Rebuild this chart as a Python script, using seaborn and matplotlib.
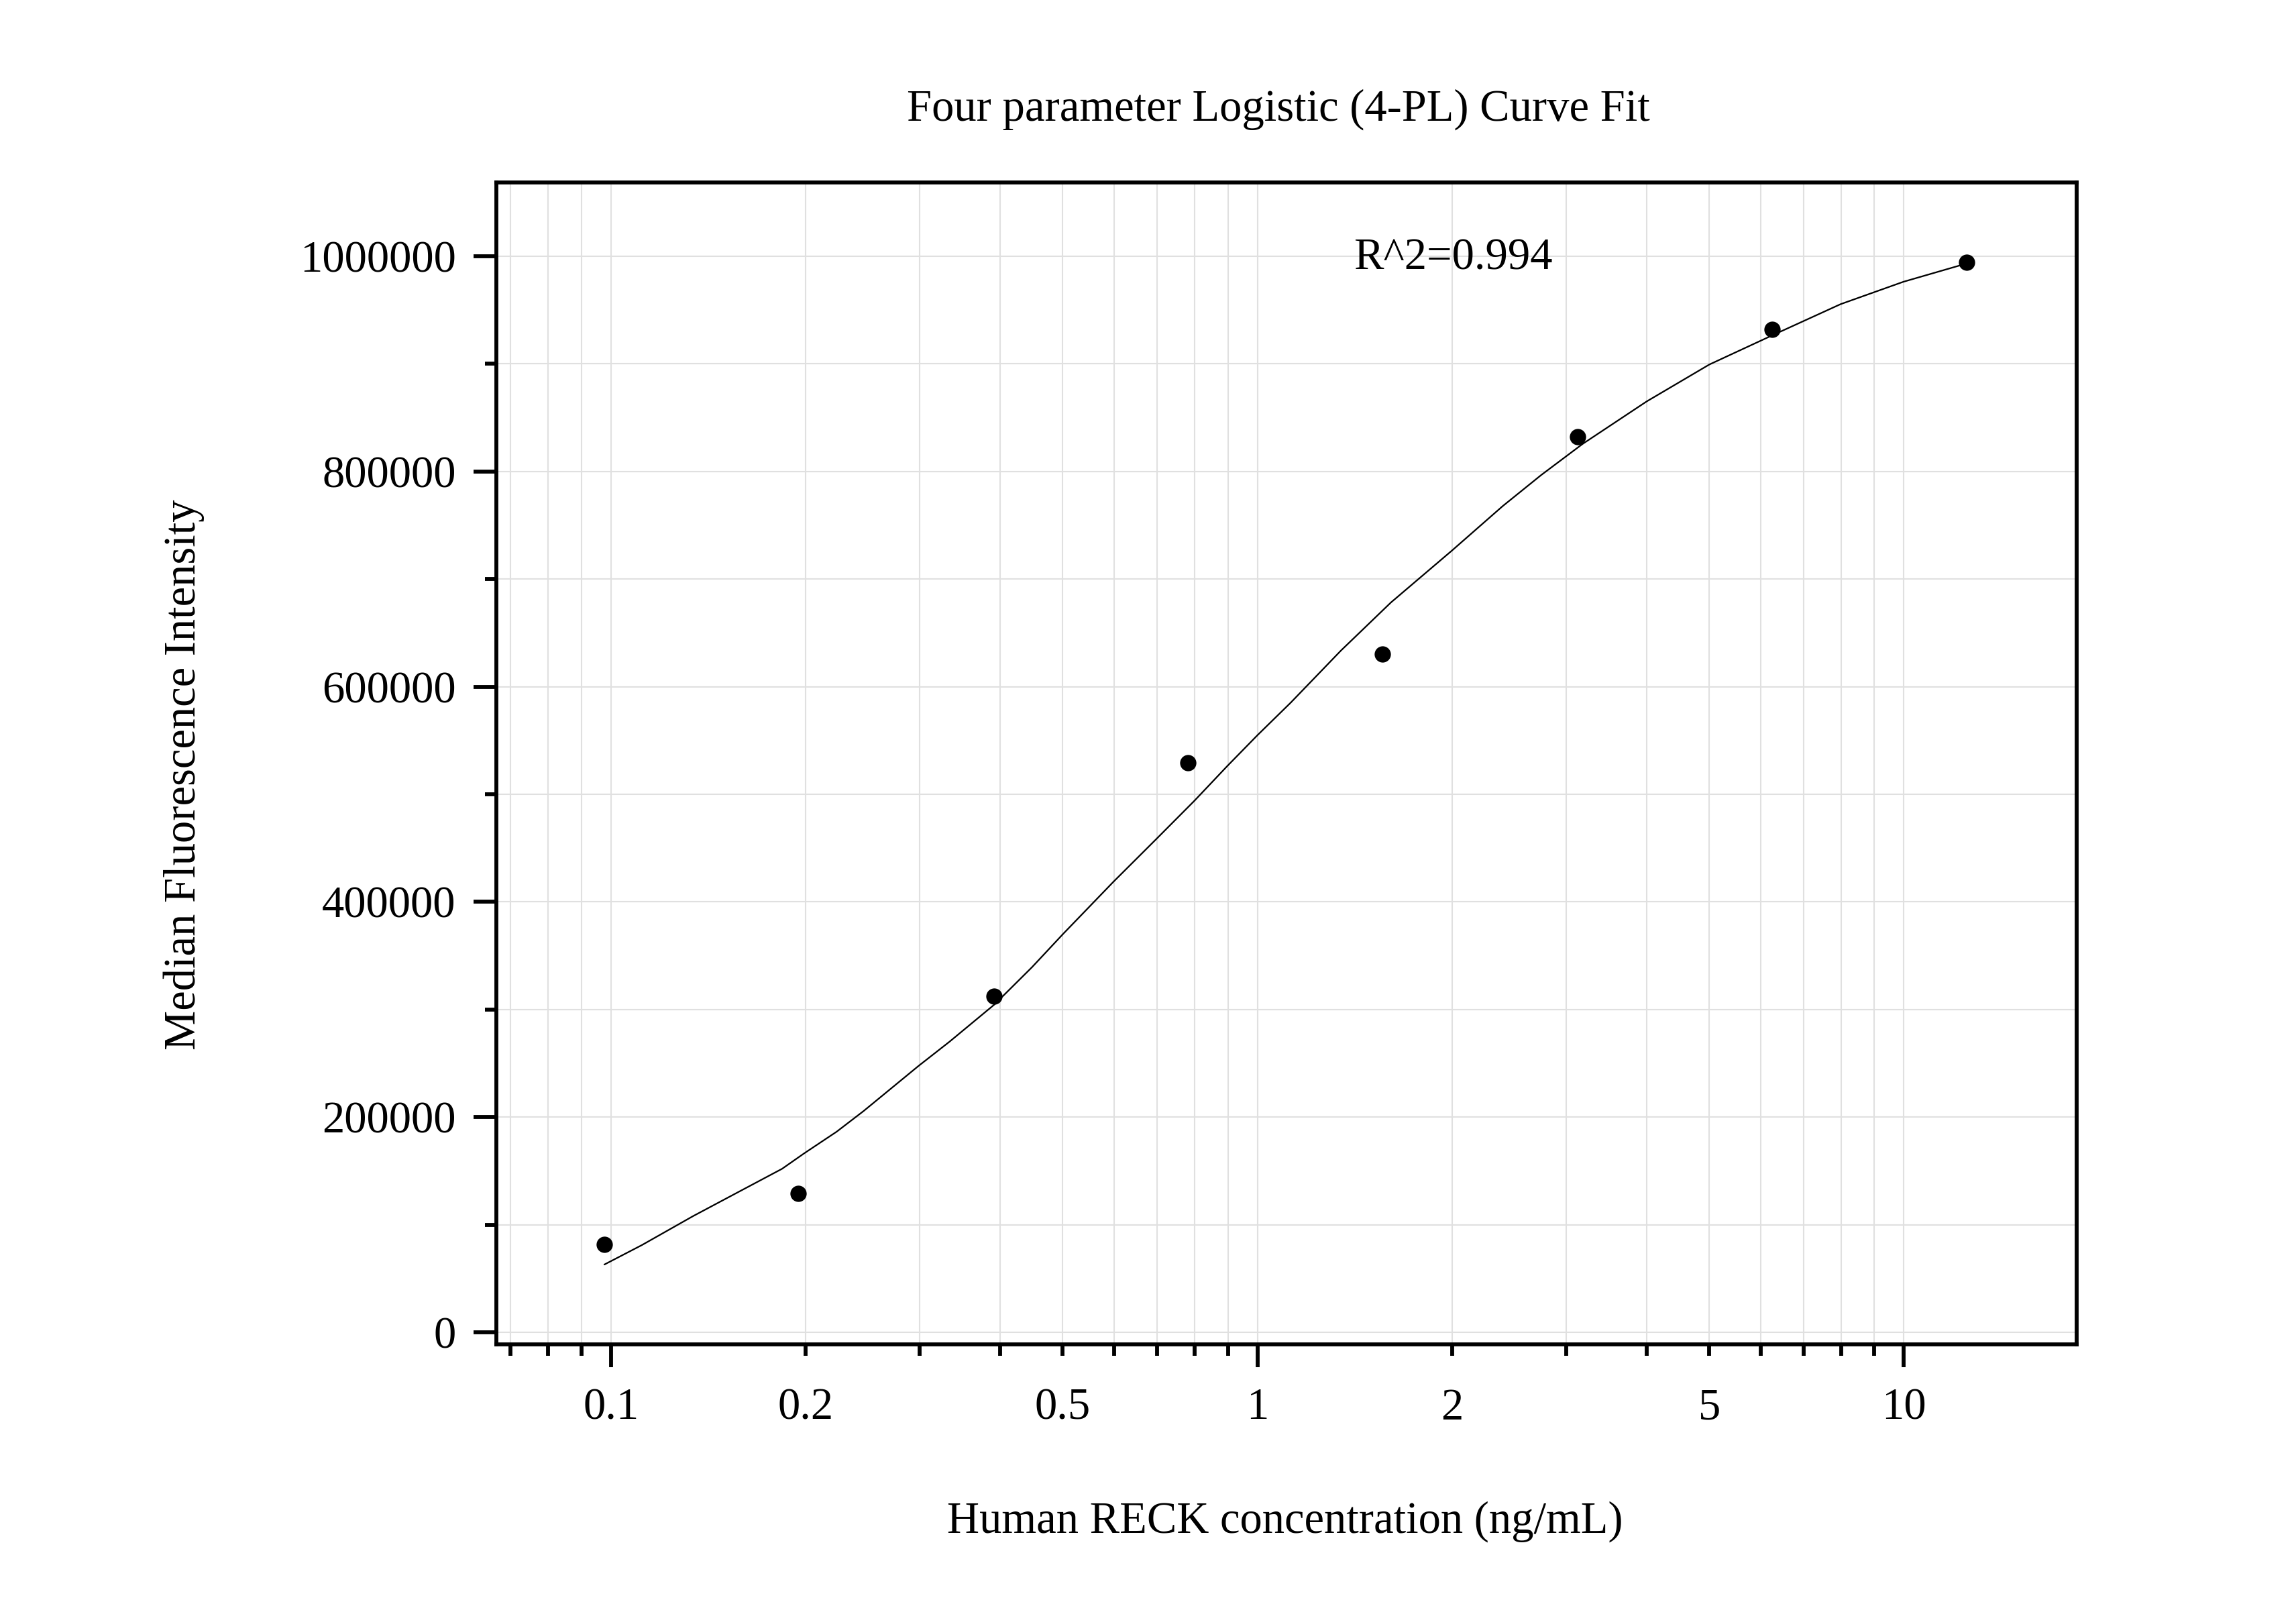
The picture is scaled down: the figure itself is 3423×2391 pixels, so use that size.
import numpy as np
import pandas as pd
import matplotlib
matplotlib.use("Agg")
import matplotlib.pyplot as plt
import matplotlib.ticker as mticker
import seaborn as sns

# ---- data ----
conc = [0.0977, 0.195, 0.391, 0.781, 1.5625, 3.125, 6.25, 12.5]
mfi = [81700, 128800, 312300, 529600, 630300, 832300, 932000, 994600]

# fitted 4-PL curve
fit_x = [0.0977, 0.1116, 0.134, 0.157, 0.184, 0.199, 0.2235, 0.246, 0.299, 0.334,
         0.392, 0.448, 0.501, 0.599, 0.697, 0.799, 0.898, 1.0, 1.126, 1.346,
         1.609, 2.0, 2.395, 2.746, 3.184, 4.0, 5.0, 6.25, 7.98, 9.98, 12.5]
fit_y = [63000, 81000, 108000, 130000, 152000, 166300, 186500, 205700, 247500, 270100,
         304700, 339300, 370500, 418800, 458200, 494000, 526200, 554900, 585200, 633500,
         678300, 726600, 767800, 796600, 825600, 865100, 899400, 926400, 955500, 976300,
         993300]

x_major = [0.1, 1, 10]
x_minor = [0.07, 0.08, 0.09, 0.2, 0.3, 0.4, 0.5, 0.6, 0.7, 0.8, 0.9,
           2, 3, 4, 5, 6, 7, 8, 9]
x_minor_labeled = [0.2, 0.5, 2, 5]
y_major = [0, 200000, 400000, 600000, 800000, 1000000]

title = "Four parameter Logistic (4-PL) Curve Fit"
xlabel = "Human RECK concentration (ng/mL)"
ylabel = "Median Fluorescence Intensity"
r2_text = "R^2=0.994"

pts = pd.DataFrame({"conc": conc, "mfi": mfi})
fit = pd.DataFrame({"x": fit_x, "y": fit_y})

sns.set_theme(style="white")
plt.rcParams["font.family"] = ["Liberation Serif", "DejaVu Serif"]

W, H = 3423, 2391
dpi = 300
fig = plt.figure(figsize=(W / dpi, H / dpi), dpi=dpi)
L, R, T, B = 740, 3096, 272, 2004
ax = fig.add_axes([L / W, 1 - B / H, (R - L) / W, (B - T) / H])

ax.set_xscale("log")
ax.set_xlim(0.0665, 18.5)
ax.set_ylim(-11200, 1068600)

sns.lineplot(data=fit, x="x", y="y", ax=ax, color="black", linewidth=0.55,
             estimator=None, sort=False, zorder=3)
sns.scatterplot(data=pts, x="conc", y="mfi", ax=ax, color="black", s=34,
                edgecolor="black", linewidth=0, zorder=4)

# ticks
ax.xaxis.set_major_locator(mticker.FixedLocator(x_major))
ax.xaxis.set_minor_locator(mticker.FixedLocator(x_minor))
ax.xaxis.set_major_formatter(mticker.FuncFormatter(lambda v, p: f"{v:g}"))
ax.xaxis.set_minor_formatter(mticker.FuncFormatter(
    lambda v, p: f"{v:g}" if any(abs(v - m) < 1e-9 for m in x_minor_labeled) else ""))
ax.yaxis.set_major_locator(mticker.FixedLocator(y_major))
ax.yaxis.set_minor_locator(mticker.MultipleLocator(100000))
ax.yaxis.set_major_formatter(mticker.FuncFormatter(lambda v, p: f"{int(round(v))}"))

ax.tick_params(axis="both", which="major", direction="out", length=8.2, width=1.4,
               labelsize=16, color="black", labelcolor="black")
ax.tick_params(axis="both", which="minor", direction="out", length=4, width=1.4,
               labelsize=16, color="black", labelcolor="black")
ax.tick_params(axis="x", which="major", pad=7.2, bottom=True, top=False)
ax.tick_params(axis="x", which="minor", pad=11.5, bottom=True, top=False)
ax.tick_params(axis="y", which="major", pad=6.3, left=True, right=False)
ax.tick_params(axis="y", which="minor", left=True, right=False)

for s in ax.spines.values():
    s.set_visible(True)
    s.set_color("black")
    s.set_linewidth(1.4)

ax.grid(True, which="both", color="#e0e0e0", linewidth=0.5, zorder=0)
ax.set_axisbelow(True)

ax.set_xlabel(xlabel, fontsize=16, color="black")
ax.xaxis.label.set_va("baseline")
ax.xaxis.set_label_coords((1916 - L) / (R - L), (B - 2285) / (B - T))
ax.set_ylabel(ylabel, fontsize=16, color="black")
ax.yaxis.label.set_va("baseline")
ax.yaxis.set_label_coords((291 - L) / (R - L), (B - 1155) / (B - T))

fig.text(1906 / W, 1 - 180 / H, title, ha="center", va="baseline", fontsize=16,
         color="black")
ax.text(1.41, 987700, r2_text, ha="left", va="baseline", fontsize=16, color="black")

fig.savefig("out.png", dpi=dpi, facecolor="white")
